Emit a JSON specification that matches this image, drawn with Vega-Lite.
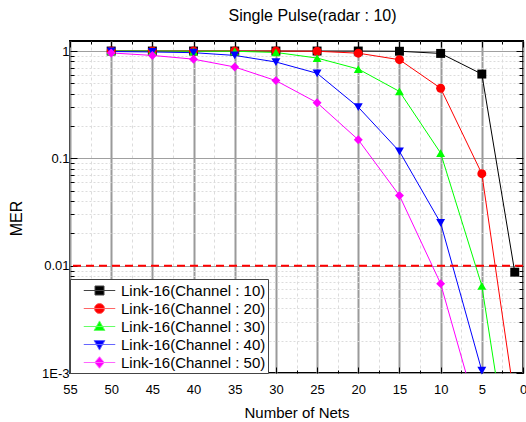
{
  "$schema": "https://vega.github.io/schema/vega-lite/v6.json",
  "width": 453,
  "height": 332,
  "autosize": {"type": "none"},
  "padding": {"left": 70, "top": 41, "right": 3, "bottom": 49},
  "title": {"text": "Single Pulse(radar : 10)", "fontSize": 16, "font": "Liberation Sans", "fontWeight": "normal", "anchor": "middle", "dx": 16, "offset": 17, "color": "black"},
  "datasets": {
    "mer": [
      {"series": "Link-16(Channel : 10)", "nets": 50, "MER": 1.0},
      {"series": "Link-16(Channel : 10)", "nets": 45, "MER": 1.0},
      {"series": "Link-16(Channel : 10)", "nets": 40, "MER": 1.0},
      {"series": "Link-16(Channel : 10)", "nets": 35, "MER": 1.0},
      {"series": "Link-16(Channel : 10)", "nets": 30, "MER": 1.0},
      {"series": "Link-16(Channel : 10)", "nets": 25, "MER": 1.0},
      {"series": "Link-16(Channel : 10)", "nets": 20, "MER": 1.0},
      {"series": "Link-16(Channel : 10)", "nets": 15, "MER": 0.995},
      {"series": "Link-16(Channel : 10)", "nets": 10, "MER": 0.95},
      {"series": "Link-16(Channel : 10)", "nets": 5, "MER": 0.61},
      {"series": "Link-16(Channel : 10)", "nets": 1, "MER": 0.0087},
      {"series": "Link-16(Channel : 20)", "nets": 50, "MER": 1.0},
      {"series": "Link-16(Channel : 20)", "nets": 45, "MER": 1.0},
      {"series": "Link-16(Channel : 20)", "nets": 40, "MER": 1.0},
      {"series": "Link-16(Channel : 20)", "nets": 35, "MER": 1.0},
      {"series": "Link-16(Channel : 20)", "nets": 30, "MER": 1.0},
      {"series": "Link-16(Channel : 20)", "nets": 25, "MER": 0.995},
      {"series": "Link-16(Channel : 20)", "nets": 20, "MER": 0.955},
      {"series": "Link-16(Channel : 20)", "nets": 15, "MER": 0.83},
      {"series": "Link-16(Channel : 20)", "nets": 10, "MER": 0.45},
      {"series": "Link-16(Channel : 20)", "nets": 5, "MER": 0.072},
      {"series": "Link-16(Channel : 20)", "nets": 1, "MER": 0.00055},
      {"series": "Link-16(Channel : 30)", "nets": 50, "MER": 1.0},
      {"series": "Link-16(Channel : 30)", "nets": 45, "MER": 1.0},
      {"series": "Link-16(Channel : 30)", "nets": 40, "MER": 0.995},
      {"series": "Link-16(Channel : 30)", "nets": 35, "MER": 0.995},
      {"series": "Link-16(Channel : 30)", "nets": 30, "MER": 0.97},
      {"series": "Link-16(Channel : 30)", "nets": 25, "MER": 0.86},
      {"series": "Link-16(Channel : 30)", "nets": 20, "MER": 0.68},
      {"series": "Link-16(Channel : 30)", "nets": 15, "MER": 0.42},
      {"series": "Link-16(Channel : 30)", "nets": 10, "MER": 0.112},
      {"series": "Link-16(Channel : 30)", "nets": 5, "MER": 0.0065},
      {"series": "Link-16(Channel : 30)", "nets": 1, "MER": 0.00007},
      {"series": "Link-16(Channel : 40)", "nets": 50, "MER": 0.99},
      {"series": "Link-16(Channel : 40)", "nets": 45, "MER": 0.98},
      {"series": "Link-16(Channel : 40)", "nets": 40, "MER": 0.965},
      {"series": "Link-16(Channel : 40)", "nets": 35, "MER": 0.91},
      {"series": "Link-16(Channel : 40)", "nets": 30, "MER": 0.79},
      {"series": "Link-16(Channel : 40)", "nets": 25, "MER": 0.62},
      {"series": "Link-16(Channel : 40)", "nets": 20, "MER": 0.3},
      {"series": "Link-16(Channel : 40)", "nets": 15, "MER": 0.116},
      {"series": "Link-16(Channel : 40)", "nets": 10, "MER": 0.025},
      {"series": "Link-16(Channel : 40)", "nets": 5, "MER": 0.00105},
      {"series": "Link-16(Channel : 40)", "nets": 1, "MER": 0.00001},
      {"series": "Link-16(Channel : 50)", "nets": 50, "MER": 0.96},
      {"series": "Link-16(Channel : 50)", "nets": 45, "MER": 0.91},
      {"series": "Link-16(Channel : 50)", "nets": 40, "MER": 0.84},
      {"series": "Link-16(Channel : 50)", "nets": 35, "MER": 0.71},
      {"series": "Link-16(Channel : 50)", "nets": 30, "MER": 0.53},
      {"series": "Link-16(Channel : 50)", "nets": 25, "MER": 0.33},
      {"series": "Link-16(Channel : 50)", "nets": 20, "MER": 0.149},
      {"series": "Link-16(Channel : 50)", "nets": 15, "MER": 0.045},
      {"series": "Link-16(Channel : 50)", "nets": 10, "MER": 0.0068},
      {"series": "Link-16(Channel : 50)", "nets": 5, "MER": 0.0003},
      {"series": "Link-16(Channel : 50)", "nets": 1, "MER": 0.00001}
    ]
  },
  "data": {"name": "mer"},
  "layer": [
    {
      "mark": {"type": "line", "strokeWidth": 1, "clip": true},
      "encoding": {
        "x": {
          "field": "nets", "type": "quantitative",
          "scale": {"domain": [0, 55], "reverse": true, "nice": false, "zero": false},
          "axis": {
            "orient": "bottom",
            "values": [0, 2.5, 5, 7.5, 10, 12.5, 15, 17.5, 20, 22.5, 25, 27.5, 30, 32.5, 35, 37.5, 40, 42.5, 45, 47.5, 50, 52.5, 55],
            "format": "~g",
            "labelExpr": "datum.value % 5 == 0 ? datum.label : ''",
            "labelOverlap": false,
            "labelFlush": false,
            "labelBound": false,
            "labelFontSize": 13,
            "labelPadding": 16,
            "title": "Number of Nets",
            "titleFontSize": 15,
            "titlePadding": 6,
            "domain": false,
            "grid": true,
            "gridColor": {"condition": {"test": "datum.value % 5 == 0", "value": "#9a9a9a"}, "value": "#dcdcdc"},
            "gridWidth": {"condition": {"test": "datum.value % 5 == 0", "value": 2}, "value": 1},
            "gridDash": {"condition": {"test": "datum.value % 5 == 0", "value": []}, "value": [3, 3]},
            "tickSize": {"condition": {"test": "datum.value % 5 == 0", "value": -6}, "value": -3},
            "tickColor": "black"
          }
        },
        "y": {
          "field": "MER", "type": "quantitative",
          "scale": {"type": "log", "domain": [0.001, 1.24], "nice": false},
          "axis": {
            "orient": "left",
            "values": [0.001, 0.002, 0.003, 0.004, 0.005, 0.006, 0.007, 0.008, 0.009, 0.01, 0.02, 0.03, 0.04, 0.05, 0.06, 0.07, 0.08, 0.09, 0.1, 0.2, 0.3, 0.4, 0.5, 0.6, 0.7, 0.8, 0.9, 1],
            "labelExpr": "datum.value == 1 ? '1' : datum.value == 0.1 ? '0.1' : datum.value == 0.01 ? '0.01' : datum.value == 0.001 ? '1E-3' : ''",
            "labelOverlap": false,
            "labelFlush": false,
            "labelBound": false,
            "labelFontSize": 13,
            "labelPadding": 8,
            "title": "MER",
            "titleFontSize": 16,
            "titlePadding": 17,
            "titleY": 177,
            "domain": false,
            "grid": true,
            "gridColor": {"condition": {"test": "datum.value == 1 || datum.value == 0.1 || datum.value == 0.01 || datum.value == 0.001", "value": "#a0a0a0"}, "value": "#dcdcdc"},
            "gridDash": {"condition": {"test": "datum.value == 1 || datum.value == 0.1 || datum.value == 0.01 || datum.value == 0.001", "value": []}, "value": [2, 2]},
            "tickSize": {"condition": {"test": "datum.value == 1 || datum.value == 0.1 || datum.value == 0.01 || datum.value == 0.001", "value": -7}, "value": -4},
            "tickColor": "black"
          }
        },
        "color": {
          "field": "series", "type": "nominal",
          "scale": {
            "domain": ["Link-16(Channel : 10)", "Link-16(Channel : 20)", "Link-16(Channel : 30)", "Link-16(Channel : 40)", "Link-16(Channel : 50)"],
            "range": ["#000000", "#ff0000", "#00ff00", "#0000ff", "#ff00ff"]
          },
          "legend": null
        }
      }
    },
    {
      "data": {"values": [{"threshold": 0.01}]},
      "mark": {"type": "rule", "color": "#ff0000", "strokeWidth": 2, "strokeDash": [8, 5]},
      "encoding": {
        "y": {"field": "threshold", "type": "quantitative", "axis": null}
      }
    },
    {
      "transform": [{"filter": "datum.MER >= 0.00095"}],
      "mark": {"type": "point", "filled": true, "opacity": 1, "size": 80, "strokeWidth": 0},
      "encoding": {
        "x": {"field": "nets", "type": "quantitative", "axis": null},
        "y": {"field": "MER", "type": "quantitative", "axis": null},
        "color": {"field": "series", "type": "nominal", "legend": null},
        "shape": {
          "field": "series", "type": "nominal",
          "scale": {
            "domain": ["Link-16(Channel : 10)", "Link-16(Channel : 20)", "Link-16(Channel : 30)", "Link-16(Channel : 40)", "Link-16(Channel : 50)"],
            "range": ["square", "circle", "triangle-up", "triangle-down", "diamond"]
          },
          "legend": null
        }
      }
    },
    {
      "transform": [{"filter": "datum.MER < 0"}],
      "mark": {"type": "point", "filled": true, "opacity": 1, "strokeWidth": 1},
      "encoding": {
        "x": {
          "field": "nets", "type": "quantitative",
          "axis": {
            "orient": "top",
            "values": [0, 2.5, 5, 7.5, 10, 12.5, 15, 17.5, 20, 22.5, 25, 27.5, 30, 32.5, 35, 37.5, 40, 42.5, 45, 47.5, 50, 52.5, 55],
            "labels": false, "title": null, "grid": false, "domain": false,
            "tickSize": {"condition": {"test": "datum.value % 5 == 0", "value": -6}, "value": -3},
            "tickColor": "black"
          }
        },
        "y": {
          "field": "MER", "type": "quantitative",
          "axis": {
            "orient": "right",
            "values": [0.001, 0.002, 0.003, 0.004, 0.005, 0.006, 0.007, 0.008, 0.009, 0.01, 0.02, 0.03, 0.04, 0.05, 0.06, 0.07, 0.08, 0.09, 0.1, 0.2, 0.3, 0.4, 0.5, 0.6, 0.7, 0.8, 0.9, 1],
            "labels": false, "title": null, "grid": false, "domain": false,
            "tickSize": {"condition": {"test": "datum.value == 1 || datum.value == 0.1 || datum.value == 0.01 || datum.value == 0.001", "value": -7}, "value": -4},
            "tickColor": "black"
          }
        },
        "fill": {
          "field": "series", "type": "nominal",
          "scale": {
            "domain": ["Link-16(Channel : 10)", "Link-16(Channel : 20)", "Link-16(Channel : 30)", "Link-16(Channel : 40)", "Link-16(Channel : 50)"],
            "range": ["#000000", "#ff0000", "#00ff00", "#0000ff", "#ff00ff"]
          }
        },
        "stroke": {
          "field": "series", "type": "nominal",
          "scale": {
            "domain": ["Link-16(Channel : 10)", "Link-16(Channel : 20)", "Link-16(Channel : 30)", "Link-16(Channel : 40)", "Link-16(Channel : 50)"],
            "range": ["#444444", "#ff6666", "#66ff66", "#6666ff", "#ff66ff"]
          }
        },
        "shape": {
          "field": "series", "type": "nominal",
          "scale": {
            "domain": ["Link-16(Channel : 10)", "Link-16(Channel : 20)", "Link-16(Channel : 30)", "Link-16(Channel : 40)", "Link-16(Channel : 50)"],
            "range": [
              "M-1.75,0H1.75M-0.5,-0.5H0.5V0.5H-0.5Z",
              "M-1.75,0H1.75M0.56,0A0.56,0.56,0,1,1,-0.56,0A0.56,0.56,0,1,1,0.56,0Z",
              "M-1.75,0H1.75M0,-0.62L0.6,0.44L-0.6,0.44Z",
              "M-1.75,0H1.75M0,0.62L0.6,-0.44L-0.6,-0.44Z",
              "M-1.75,0H1.75M0,-0.64L0.54,0L0,0.64L-0.54,0Z"
            ]
          }
        }
      }
    }
  ],
  "resolve": {
    "scale": {"shape": "independent", "fill": "independent", "stroke": "independent"},
    "axis": {"x": "independent", "y": "independent"}
  },
  "config": {
    "font": "Liberation Sans",
    "view": {"stroke": "black", "strokeWidth": 2},
    "axis": {
      "labelFont": "Liberation Sans",
      "titleFont": "Liberation Sans",
      "labelColor": "black",
      "titleColor": "black",
      "titleFontWeight": "normal"
    },
    "legend": {
      "title": null,
      "orient": "bottom-left",
      "offset": 0,
      "padding": 2,
      "labelFont": "Liberation Sans",
      "labelFontSize": 15,
      "labelColor": "black",
      "labelLimit": 300,
      "labelOffset": 12,
      "symbolOffset": 18,
      "symbolSize": 324,
      "symbolStrokeWidth": 1,
      "symbolFillColor": "#808080",
      "symbolStrokeColor": "#808080",
      "rowPadding": 0,
      "strokeColor": "#444444",
      "fillColor": "white",
      "cornerRadius": 0
    }
  }
}
